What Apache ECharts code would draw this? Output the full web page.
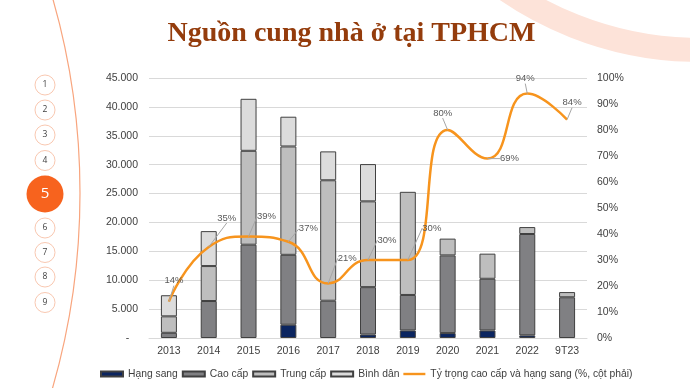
<!DOCTYPE html>
<html>
<head>
<meta charset="utf-8">
<script src="https://cdn.jsdelivr.net/npm/echarts@6/dist/echarts.min.js"></script>
<style>
html,body{margin:0;padding:0;background:#fff;}
#c{width:690px;height:388px;}
</style>
</head>
<body>
<div id="c"></div>
<script>
// ---- data ----
var categories = ['2013','2014','2015','2016','2017','2018','2019','2020','2021','2022','9T23'];
var hangSang  = [0, 0, 0, 2300, 0, 600, 1300, 850, 1300, 450, 0];
var caoCap    = [900, 6400, 16150, 12100, 6450, 8200, 6150, 13450, 8950, 17550, 7050];
var trungCap  = [2850, 6050, 16250, 18750, 20850, 14850, 17850, 2900, 4350, 1200, 900];
var binhDan   = [3650, 6050, 9000, 5150, 5000, 6450, 0, 0, 0, 0, 0];
var tyTrong   = [14, 35, 39, 37, 21, 30, 30, 80, 69, 94, 84];
var leftTicks = [0, 5000, 10000, 15000, 20000, 25000, 30000, 35000, 40000, 45000];
var rightTicks = [0,10,20,30,40,50,60,70,80,90,100];
var navItems = ['1','2','3','4','5','6','7','8','9'];
var activeNav = '5';

// label offsets (relative to point) for percentage labels
var labelOffsets = [[5,-21],[18,-29],[18,-20],[20,-13],[19,-25],[19,-20],[24,-32],[-5,-17],[22,0],[-2,-15],[5,-17]];

function nz(a){ return a.map(function(v){ return v === 0 ? null : v; }); }
function fmtThousand(v){
  if (v === 0) return '-   ';
  return String(v).replace(/\B(?=(\d{3})+(?!\d))/g, '.');
}

var chart = echarts.init(document.getElementById('c'), null, {renderer:'canvas'});

var graphics = [];
graphics.push({type:'circle', z:-10, shape:{cx:700, cy:-292, r:342}, style:{fill:null, stroke:'#FDE3D9', lineWidth:24}, silent:true});
graphics.push({type:'circle', z:-10, shape:{cx:-625, cy:193, r:705}, style:{fill:null, stroke:'#F8A57E', lineWidth:1.2}, silent:true});
var navY = [85,110,135,160.5,194,228,252.5,277,302.5];
navItems.forEach(function(t, i){
  var active = t === activeNav;
  graphics.push({type:'circle', shape:{cx:45, cy:navY[i], r: active ? 18.5 : 10},
    style: active ? {fill:'#F7631E', stroke:null} : {fill:'#fff', stroke:'#F9C8B1', lineWidth:1}, silent:true});
  graphics.push({type:'text', x:45, y:navY[i], style:{text:t, fill: active ? '#fff' : '#404040',
    font: active ? '15px "Open Sans", sans-serif' : '8.5px "Open Sans", sans-serif', align:'center', verticalAlign:'middle'}, silent:true});
});
graphics.push({type:'text', x:351.5, y:34, style:{text:'Nguồn cung nhà ở tại TPHCM', fill:'#943C0C',
  font:'bold 28px "Liberation Serif", "Times New Roman", serif', align:'center', verticalAlign:'middle'}, silent:true});

var barBorder = {borderColor:'#404040', borderWidth:1};
var txt = '#404040';
var lineName = 'Tỷ trọng cao cấp và hạng sang (%, cột phải)';

var option = {
  animation:false,
  backgroundColor:'#fff',
  graphic: graphics,
  grid:{left:149, right:103, top:78, bottom:50},
  legend:{
    left:95, top:364, itemWidth:22, itemHeight:5, itemGap:4,
    textStyle:{fontFamily:'"Liberation Sans", Arial, sans-serif', fontSize:10.3, color:txt},
    data:[{name:'Hạng sang', icon:'rect'},{name:'Cao cấp', icon:'rect'},{name:'Trung cấp', icon:'rect'},{name:'Bình dân', icon:'rect'},
      {name:lineName, icon:'path://M0,0H22V2.4H0Z', itemStyle:{color:'#F7941D', borderWidth:0}}]
  },
  xAxis:{
    type:'category', data:categories, boundaryGap:true,
    axisLine:{show:true, lineStyle:{color:'#D9D9D9'}}, axisTick:{show:false},
    axisLabel:{color:txt, fontFamily:'"Liberation Sans", Arial, sans-serif', fontSize:10.5, margin:8}
  },
  yAxis:[{
    type:'value', min:leftTicks[0], max:leftTicks[leftTicks.length-1], interval:leftTicks[1]-leftTicks[0],
    axisLine:{show:false}, axisTick:{show:false},
    splitLine:{lineStyle:{color:'#D9D9D9'}},
    axisLabel:{color:txt, fontFamily:'"Liberation Sans", Arial, sans-serif', fontSize:10.5, margin:11, formatter:fmtThousand}
  },{
    type:'value', min:rightTicks[0], max:rightTicks[rightTicks.length-1], interval:rightTicks[1]-rightTicks[0],
    axisLine:{show:false}, axisTick:{show:false}, splitLine:{show:false},
    axisLabel:{color:txt, fontFamily:'"Liberation Sans", Arial, sans-serif', fontSize:10.5, margin:10, formatter:'{value}%'}
  }],
  series:[
    {name:'Hạng sang', type:'bar', stack:'s', barWidth:16, data:nz(hangSang), itemStyle:Object.assign({color:'#0B2560'}, barBorder)},
    {name:'Cao cấp', type:'bar', stack:'s', barWidth:16, data:nz(caoCap), itemStyle:Object.assign({color:'#808083'}, barBorder)},
    {name:'Trung cấp', type:'bar', stack:'s', barWidth:16, data:nz(trungCap), itemStyle:Object.assign({color:'#BEBEBE'}, barBorder)},
    {name:'Bình dân', type:'bar', stack:'s', barWidth:16, data:nz(binhDan), itemStyle:Object.assign({color:'#DCDCDC'}, barBorder)},
    {name:lineName, type:'line', yAxisIndex:1, data:tyTrong,
      smooth:0.5, symbol:'circle', symbolSize:0.01, showSymbol:true, z:5,
      lineStyle:{color:'#F7941D', width:2.5}, itemStyle:{color:'#F7941D'},
      label:{show:true, position:'inside', formatter:'{c}%', color:'#595959', fontSize:9.5,
        fontFamily:'"Liberation Sans", Arial, sans-serif'},
      labelLine:{show:true, lineStyle:{color:'#A6A6A6', width:1}},
      labelLayout:function(p){ var o = labelOffsets[p.dataIndex]; return {dx:o[0], dy:o[1]}; }
    }
  ]
};
chart.setOption(option);
</script>
</body>
</html>
